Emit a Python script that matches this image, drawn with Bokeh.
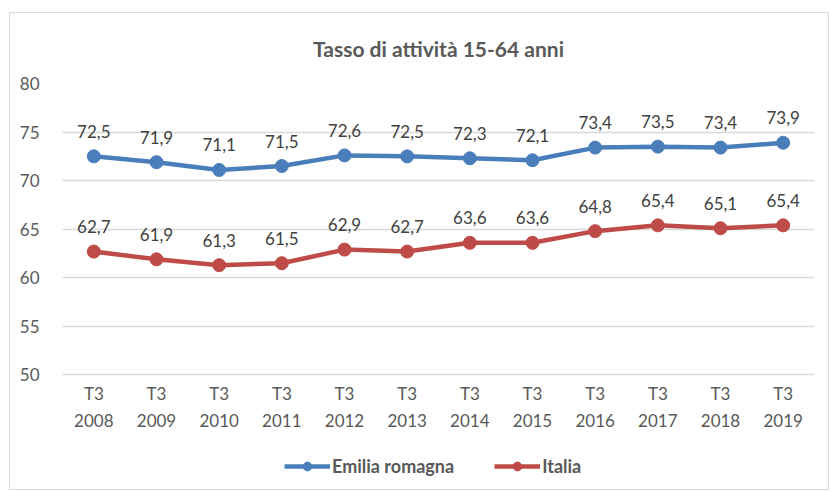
from bokeh.plotting import figure
from bokeh.models import Legend, LegendItem, ColumnDataSource, LabelSet, FixedTicker
from bokeh.core.properties import value
from bokeh.embed import file_html
from bokeh.resources import INLINE

years = ["2008", "2009", "2010", "2011", "2012", "2013", "2014", "2015", "2016", "2017", "2018", "2019"]
quarter = ["T3"] * len(years)
emilia = [72.5, 71.9, 71.1, 71.5, 72.6, 72.5, 72.3, 72.1, 73.4, 73.5, 73.4, 73.9]
italia = [62.7, 61.9, 61.3, 61.5, 62.9, 62.7, 63.6, 63.6, 64.8, 65.4, 65.1, 65.4]
y_ticks = [50, 55, 60, 65, 70, 75, 80]
Y_MIN, Y_MAX = 50, 80

FONT = "Lato"
BLUE = "#4A7EBB"
RED = "#BE4B48"
TXT = "#595959"

def fmt(v):
    return f"{v:.1f}".replace(".", ",")

src_e = ColumnDataSource(dict(x=years, y=emilia, lab=[fmt(v) for v in emilia]))
src_i = ColumnDataSource(dict(x=years, y=italia, lab=[fmt(v) for v in italia]))
src_ax = ColumnDataSource(dict(x=years, y=[Y_MIN] * len(years), q=quarter, yr=years))

# frame extends below the 50 line to host the category labels and the legend
p = figure(width=820, height=478, x_range=years, y_range=(38.0, Y_MAX),
           output_backend="svg", toolbar_location=None,
           min_border_left=52, min_border_right=16, min_border_top=70, min_border_bottom=0)
p.styles = {"border": "1px solid #D9D9D9", "margin-left": "9px", "margin-top": "12px"}

p.title.text = "Tasso di attività 15-64 anni"
p.title.align = "center"
p.title.text_font = FONT
p.title.text_font_size = "21px"
p.title.text_font_style = "bold"
p.title.text_color = TXT
p.title.standoff = 41
p.title.vertical_align = "top"

p.outline_line_color = None
p.xgrid.grid_line_color = None
p.ygrid.grid_line_color = "#D9D9D9"
p.ygrid.grid_line_width = 1.5
p.yaxis.ticker = FixedTicker(ticks=y_ticks)
p.xaxis.visible = False
ax = p.yaxis[0]
ax.axis_line_color = None
ax.major_tick_line_color = None
ax.minor_tick_line_color = None
ax.major_label_text_font = FONT
ax.major_label_text_font_size = "17px"
ax.major_label_text_color = TXT
ax.major_label_standoff = 17

# category labels under the 50 line
p.add_layout(LabelSet(x="x", y="y", text="q", source=src_ax, y_offset=-19,
                      text_align="center", text_baseline="middle",
                      text_font=value(FONT), text_font_size=value("17px"), text_color=TXT))
p.add_layout(LabelSet(x="x", y="y", text="yr", source=src_ax, y_offset=-46,
                      text_align="center", text_baseline="middle",
                      text_font=value(FONT), text_font_size=value("17px"), text_color=TXT))

le = p.line("x", "y", source=src_e, line_color=BLUE, line_width=4.5)
se = p.scatter("x", "y", source=src_e, size=13, fill_color=BLUE, line_color=BLUE)
li = p.line("x", "y", source=src_i, line_color=RED, line_width=4.5)
si = p.scatter("x", "y", source=src_i, size=13, fill_color=RED, line_color=RED)

for s in (src_e, src_i):
    p.add_layout(LabelSet(x="x", y="y", text="lab", source=s, y_offset=25,
                          text_align="center", text_baseline="middle",
                          text_font=value(FONT), text_font_size=value("17px"),
                          text_color="#404040"))

legend = Legend(items=[LegendItem(label="Emilia romagna", renderers=[le, se]),
                       LegendItem(label="Italia", renderers=[li, si])],
                orientation="horizontal", location=(222, 14),
                label_text_font=FONT, label_text_font_size="18px",
                label_text_font_style="bold", label_text_color=TXT,
                glyph_width=46, glyph_height=22, spacing=40, label_standoff=2,
                border_line_color=None, background_fill_alpha=0, margin=0, padding=0)
p.add_layout(legend, "center")

open("out.html", "w").write(file_html(p, INLINE))
